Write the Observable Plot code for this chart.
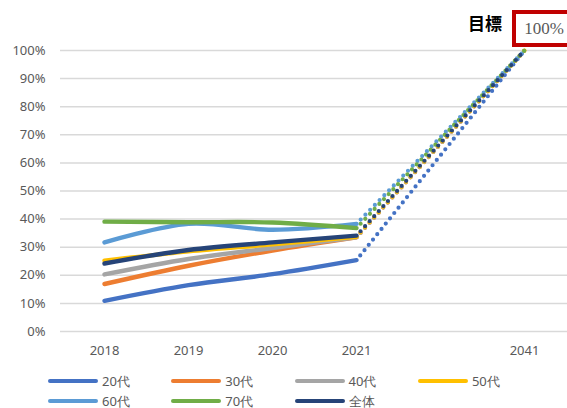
<!DOCTYPE html>
<html>
<head>
<meta charset="utf-8">
<script src="https://cdn.jsdelivr.net/npm/d3@7"></script>
<script src="https://cdn.jsdelivr.net/npm/@observablehq/plot@0.6"></script>
<style>
  html, body { margin: 0; padding: 0; background: #fff; }
  body { width: 567px; height: 408px; overflow: hidden; font-family: "Noto Sans", sans-serif; }
  #chart svg { display: block; overflow: hidden; }
  #legend { display: grid; grid-template-columns: repeat(4, 123.3px); padding-left: 48px; margin-top: 9px; row-gap: 0; }
  .item { display: flex; align-items: center; height: 20px; font-size: 13px; color: #595959; }
  .swatch { width: 50px; height: 4px; border-radius: 2px; margin-right: 4px; }
</style>
</head>
<body>
<div id="chart"></div>
<div id="legend"></div>
<script>
// Categories (blank slot between 2021 and 2041 as in the source chart)
const categories = ["2018", "2019", "2020", "2021", "", "2041"];
const years = ["2018", "2019", "2020", "2021"];
const seriesNames = ["20代", "30代", "40代", "50代", "60代", "70代", "全体"];
const seriesColors = ["#4472C4", "#ED7D31", "#A5A5A5", "#FFC000", "#5B9BD5", "#70AD47", "#264478"];

const v20 = [0.109, 0.165, 0.204, 0.254];
const v30 = [0.169, 0.234, 0.288, 0.335];
const v40 = [0.203, 0.258, 0.297, 0.335];
const v50 = [0.252, 0.285, 0.310, 0.337];
const v60 = [0.317, 0.383, 0.362, 0.383];
const v70 = [0.391, 0.389, 0.388, 0.368];
const vAll = [0.242, 0.290, 0.317, 0.341];
const seriesValues = [v20, v30, v40, v50, v60, v70, vAll];

const targetYear = "2041";
const targetValue = 1.0;
const targetLabel = "目標";
const targetText = "100%";
const yTicks = [0, 0.1, 0.2, 0.3, 0.4, 0.5, 0.6, 0.7, 0.8, 0.9, 1.0];

const actual = [];
const projection = [];
seriesNames.forEach((name, i) => {
  seriesValues[i].forEach((v, j) => actual.push({series: name, year: years[j], value: v}));
  projection.push({series: name, year: years[years.length - 1], value: seriesValues[i][years.length - 1]});
  projection.push({series: name, year: targetYear, value: targetValue});
});

const gray = "#595959";
const chart = Plot.plot({
  width: 567,
  height: 362,
  marginLeft: 60,
  marginRight: 0,
  marginTop: 50,
  marginBottom: 31,
  style: {fontFamily: "Noto Sans, sans-serif", fontSize: "13px", color: gray, background: "#fff"},
  x: {type: "point", domain: categories, padding: 0.5, label: null},
  y: {domain: [0, 1], label: null},
  color: {domain: seriesNames, range: seriesColors},
  marks: [
    Plot.gridY(yTicks, {stroke: "#d9d9d9", strokeOpacity: 1, strokeWidth: 1.5}),
    Plot.axisY(yTicks, {tickSize: 0, tickPadding: 15, tickFormat: d3.format(".0%"), fill: gray, fontSize: 13, label: null}),
    Plot.axisX({tickSize: 0, tickPadding: 14, fill: gray, fontSize: 13, label: null}),
    Plot.line(projection, {x: "year", y: "value", z: "series", stroke: "series",
      strokeWidth: 4.2, strokeDasharray: "0 6.8", strokeLinecap: "round", strokeDashoffset: -6}),
    Plot.line(actual, {x: "year", y: "value", z: "series", stroke: "series",
      strokeWidth: 4.4, strokeLinecap: "round", curve: "catmull-rom"})
  ]
});
document.getElementById("chart").appendChild(chart);

// Target annotation anchored to the scales
const sx = chart.scale("x"), sy = chart.scale("y");
const tx = sx.apply(targetYear), ty = sy.apply(targetValue);
const svg = d3.select(chart);
const g = svg.append("g");
g.append("rect")
  .attr("x", tx - 10).attr("y", ty - 38)
  .attr("width", 70).attr("height", 33)
  .attr("fill", "#fff").attr("stroke", "#C00000").attr("stroke-width", 4);
g.append("text")
  .attr("x", tx + 20).attr("y", ty - 16)
  .attr("text-anchor", "middle")
  .style("font-family", "'Liberation Serif', 'DejaVu Serif', serif")
  .style("font-size", "17px").attr("fill", gray)
  .text(targetText);
g.append("text")
  .attr("x", tx - 39).attr("y", ty - 20)
  .attr("text-anchor", "middle")
  .style("font-family", "'Noto Sans CJK JP', sans-serif")
  .style("font-weight", "bold")
  .style("font-size", "17px").attr("fill", "#000")
  .text(targetLabel);

// Legend
const legend = document.getElementById("legend");
seriesNames.forEach((name, i) => {
  const item = document.createElement("div");
  item.className = "item";
  const sw = document.createElement("span");
  sw.className = "swatch";
  sw.style.background = seriesColors[i];
  const label = document.createElement("span");
  label.textContent = name;
  item.appendChild(sw);
  item.appendChild(label);
  legend.appendChild(item);
});
</script>
</body>
</html>
